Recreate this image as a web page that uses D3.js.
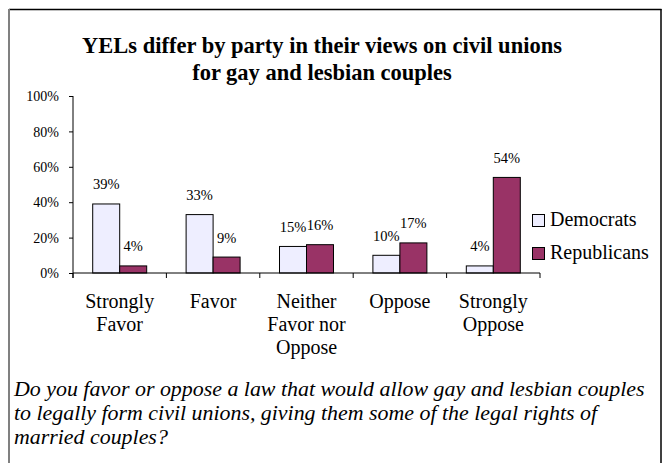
<!DOCTYPE html>
<html>
<head>
<meta charset="utf-8">
<script src="https://cdn.jsdelivr.net/npm/d3@7"></script>
</head>
<body style="margin:0">
<svg id="chart" width="663" height="463"></svg>
<script>
// Survey responses by party
const categories = ["Strongly Favor", "Favor", "Neither Favor nor Oppose", "Oppose", "Strongly Oppose"];
const categoryLines = [["Strongly", "Favor"], ["Favor"], ["Neither", "Favor nor", "Oppose"], ["Oppose"], ["Strongly", "Oppose"]];
const seriesNames = ["Democrats", "Republicans"];
const democrats = [0.39, 0.33, 0.15, 0.10, 0.04];
const republicans = [0.04, 0.09, 0.16, 0.17, 0.54];
const yTicks = [0, 0.2, 0.4, 0.6, 0.8, 1.0];
const titleLines = ["YELs differ by party in their views on civil unions", "for gay and lesbian couples"];
const questionLines = [
  "Do you favor or oppose a law that would allow gay and lesbian couples",
  "to legally form civil unions, giving them some of the legal rights of",
  "married couples?"
];

const colors = { Democrats: "#EEEEFF", Republicans: "#993366" };
const serif = '"Liberation Serif"';

const svg = d3.select("#chart");

// frame
svg.append("line").attr("x1", 9).attr("x2", 661.5).attr("y1", 9.5).attr("y2", 9.5)
  .attr("stroke", "#000").attr("stroke-width", 1.5);
svg.append("line").attr("x1", 9).attr("x2", 9).attr("y1", 9).attr("y2", 463)
  .attr("stroke", "#808080").attr("stroke-width", 2);
svg.append("line").attr("x1", 661).attr("x2", 661).attr("y1", 9).attr("y2", 463)
  .attr("stroke", "#000").attr("stroke-width", 1.5);

function label(x, y, str, size, anchor) {
  return svg.append("text")
    .attr("x", x).attr("y", y)
    .style("font-family", serif)
    .style("font-size", size + "px")
    .style("text-anchor", anchor || "middle")
    .text(str);
}

// title
titleLines.forEach((s, i) => label(322, 53 + i * 27, s, 22.5).style("font-weight", "bold"));

// scales
const x = d3.scaleBand().domain(categories).range([73, 540]).paddingInner(0).paddingOuter(0);
const xs = d3.scaleBand().domain(seriesNames).range([0, x.bandwidth()]).paddingInner(0).paddingOuter(0.73);
const y = d3.scaleLinear().domain([0, 1]).range([273, 96]);

// bars
const rows = categories.map((c, i) => ({ c, vals: [
  { s: "Democrats", v: democrats[i] },
  { s: "Republicans", v: republicans[i] }
]}));

const groups = svg.append("g").selectAll("g").data(rows).join("g")
  .attr("transform", d => `translate(${x(d.c)},0)`);

groups.selectAll("rect").data(d => d.vals).join("rect")
  .attr("x", d => xs(d.s))
  .attr("y", d => y(d.v))
  .attr("width", xs.bandwidth())
  .attr("height", d => y(0) - y(d.v))
  .attr("fill", d => colors[d.s])
  .attr("stroke", "#000")
  .attr("stroke-width", 1);

// value labels
rows.forEach(r => {
  r.vals.forEach(d => {
    label(x(r.c) + xs(d.s) + xs.bandwidth() / 2, y(d.v) - 14.5, Math.round(d.v * 100) + "%", 14.5);
  });
});

// y axis
const yAxis = svg.append("g").attr("transform", "translate(73,0)")
  .call(d3.axisLeft(y).tickValues(yTicks).tickSize(4).tickSizeOuter(0).tickFormat(d3.format(".0%")));
yAxis.select(".domain").attr("stroke", "#000").attr("d", "M0,96V278");
yAxis.selectAll(".tick line").attr("stroke", "#000");
yAxis.selectAll(".tick text")
  .attr("x", -14).attr("dy", "0.34em")
  .style("font-family", serif)
  .style("font-size", "14px")
  .attr("fill", "#000");

// x axis with tick marks between categories
const xAxis = svg.append("g").attr("transform", "translate(0,273)");
xAxis.append("line").attr("x1", 73).attr("x2", 540).attr("y1", 0).attr("y2", 0).attr("stroke", "#000");
const bounds = categories.map(c => x(c)).concat([x.range()[1]]);
xAxis.selectAll("line.tk").data(bounds).join("line").attr("class", "tk")
  .attr("x1", d => d).attr("x2", d => d).attr("y1", 0).attr("y2", 5).attr("stroke", "#000");

// category labels
categories.forEach((c, i) => {
  categoryLines[i].forEach((ln, j) => label(x(c) + x.bandwidth() / 2, 308 + j * 23, ln, 20));
});

// legend
seriesNames.forEach((s, i) => {
  const ly = 214 + i * 33;
  svg.append("rect").attr("x", 532.5).attr("y", ly + 0.5).attr("width", 12).attr("height", 12)
    .attr("fill", colors[s]).attr("stroke", "#000").attr("stroke-width", 1);
  label(550, ly + 12, s, 20, "start");
});

// survey question
questionLines.forEach((s, i) => label(14, 396 + i * 24, s, 21.9, "start").style("font-style", "italic"));
</script>
</body>
</html>
